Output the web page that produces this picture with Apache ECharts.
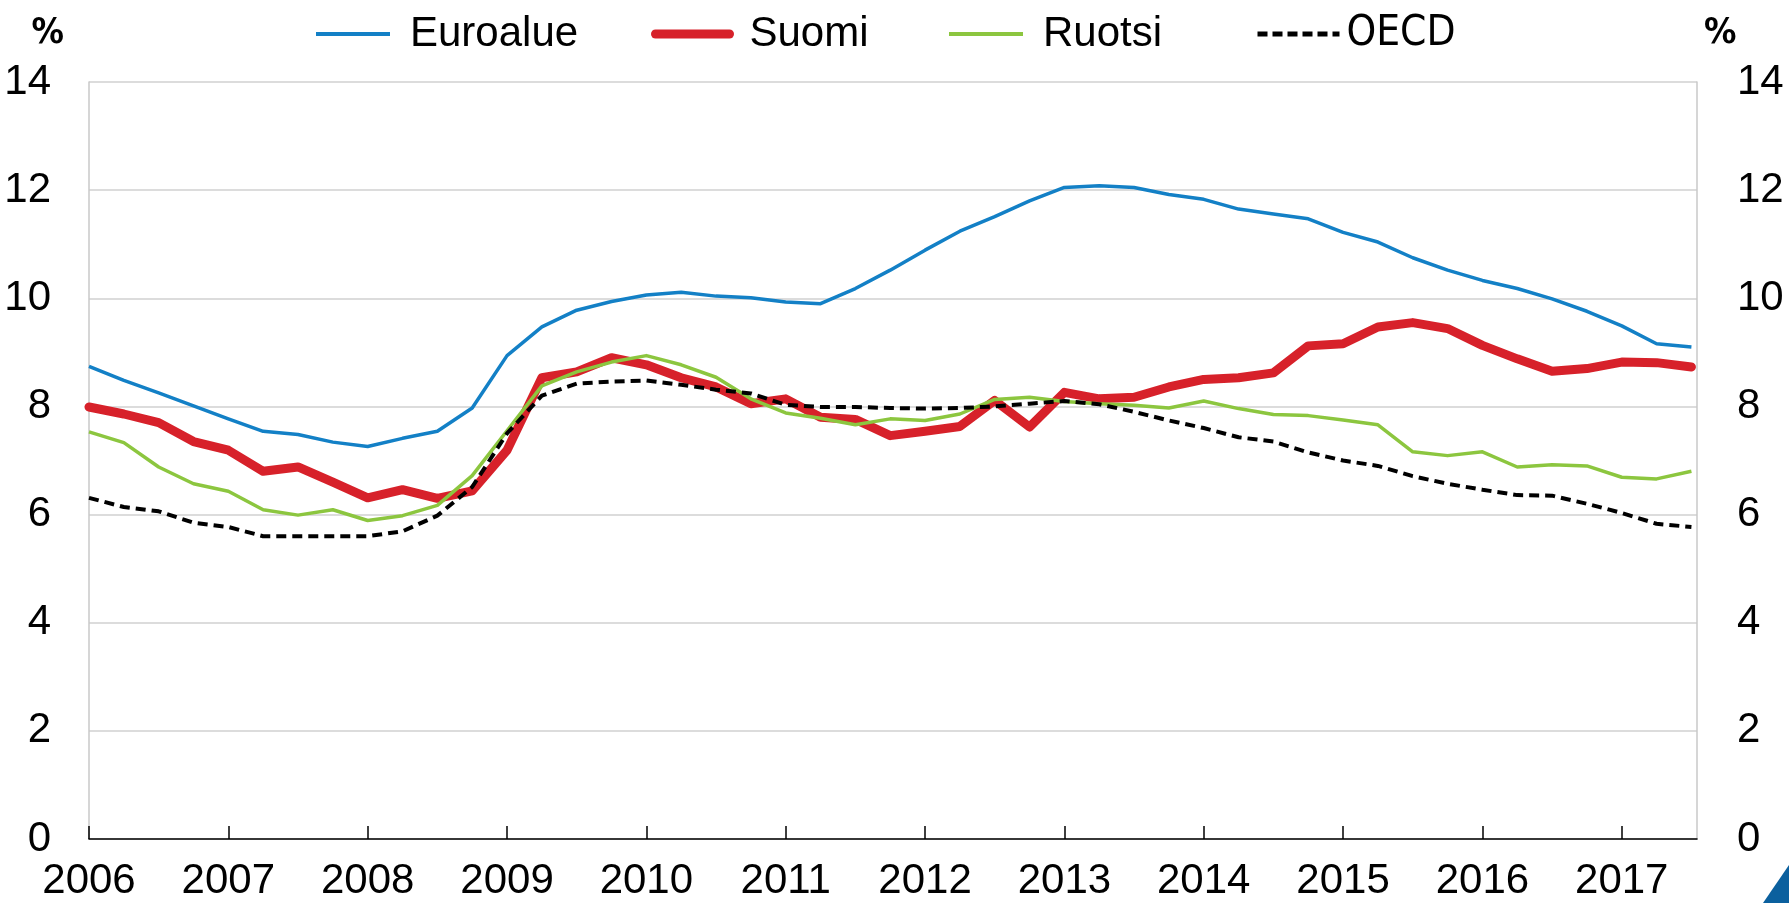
<!DOCTYPE html>
<html>
<head>
<meta charset="utf-8">
<script src="https://cdn.jsdelivr.net/npm/echarts@6/dist/echarts.min.js"></script>
<style>
  html, body { margin: 0; padding: 0; background: #fff; }
  #chart { width: 1789px; height: 903px; }
</style>
</head>
<body>
<div id="chart"></div>
<script>
// quarterly unemployment rate, 2006Q1 .. 2017Q3
const startYear = 2006;
const yearTicks = [2006, 2007, 2008, 2009, 2010, 2011, 2012, 2013, 2014, 2015, 2016, 2017];

const euroalue = [8.74, 8.48, 8.25, 8.01, 7.77, 7.54, 7.48, 7.34, 7.26, 7.41, 7.54, 7.97,
  8.94, 9.47, 9.78, 9.94, 10.06, 10.11, 10.04, 10.01, 9.93, 9.90, 10.18, 10.52,
  10.89, 11.24, 11.51, 11.80, 12.05, 12.08, 12.05, 11.92, 11.83, 11.65, 11.56, 11.47,
  11.22, 11.04, 10.75, 10.52, 10.33, 10.18, 9.99, 9.76, 9.49, 9.16, 9.10];

const suomi = [7.99, 7.86, 7.70, 7.35, 7.19, 6.80, 6.88, 6.60, 6.31, 6.46, 6.30, 6.44,
  7.19, 8.53, 8.64, 8.90, 8.77, 8.53, 8.36, 8.05, 8.14, 7.80, 7.76, 7.46,
  7.54, 7.63, 8.11, 7.62, 8.26, 8.14, 8.17, 8.36, 8.50, 8.53, 8.62, 9.12,
  9.16, 9.47, 9.55, 9.44, 9.13, 8.88, 8.65, 8.70, 8.82, 8.81, 8.73];

const ruotsi = [7.53, 7.33, 6.88, 6.57, 6.43, 6.09, 5.99, 6.09, 5.89, 5.98, 6.17, 6.72,
  7.55, 8.38, 8.64, 8.82, 8.94, 8.77, 8.54, 8.14, 7.88, 7.78, 7.66, 7.77,
  7.74, 7.86, 8.13, 8.17, 8.09, 8.05, 8.02, 7.97, 8.10, 7.96, 7.85, 7.83,
  7.75, 7.66, 7.16, 7.09, 7.16, 6.88, 6.92, 6.90, 6.69, 6.66, 6.80];

const oecd = [6.31, 6.14, 6.06, 5.85, 5.77, 5.60, 5.60, 5.60, 5.60, 5.69, 5.98, 6.51,
  7.50, 8.20, 8.42, 8.46, 8.48, 8.40, 8.31, 8.24, 8.03, 7.99, 7.99, 7.97,
  7.96, 7.97, 8.00, 8.05, 8.10, 8.04, 7.90, 7.74, 7.60, 7.43, 7.35, 7.15,
  7.00, 6.90, 6.71, 6.57, 6.46, 6.36, 6.35, 6.20, 6.03, 5.83, 5.77];

const condensed = "'DejaVu Sans Condensed', 'DejaVu Sans', sans-serif";
const regular = "'Liberation Sans', Arial, sans-serif";

// quarter i -> decimal year
const toPairs = (values) => values.map((v, i) => [startYear + i * 0.25, v]);

const chart = echarts.init(document.getElementById('chart'));

const legendBase = {
  top: 12,
  padding: 0,
  itemWidth: 74,
  itemHeight: 14,
  selectedMode: false,
  itemStyle: { opacity: 0 },
  textStyle: { fontSize: 42, fontFamily: regular, color: '#000', padding: [0, 0, 0, 15], lineHeight: 44 },
};

const option = {
  backgroundColor: '#fff',
  animation: false,
  legend: [
    Object.assign({}, legendBase, { left: 314, data: ['Euroalue'], lineStyle: { width: 4 } }),
    Object.assign({}, legendBase, { left: 651, data: ['Suomi'], lineStyle: { width: 9, cap: 'round' } }),
    Object.assign({}, legendBase, { left: 947, data: ['Ruotsi'], lineStyle: { width: 4 } }),
    Object.assign({}, legendBase, {
      left: 1255, data: ['OECD'], itemWidth: 82,
      lineStyle: { width: 5, type: [10, 5] },
      textStyle: { fontSize: 42, fontFamily: condensed, color: '#000', padding: [0, 0, 0, 2], lineHeight: 44 },
    }),
  ],
  grid: { left: 89, right: 92, top: 82, bottom: 64, containLabel: false },
  xAxis: {
    type: 'value',
    min: 2006,
    max: 2017.54,
    interval: 1,
    splitLine: { show: false },
    axisLine: { show: true, lineStyle: { color: '#000', width: 1.5 } },
    axisTick: { show: true, inside: true, length: 13, lineStyle: { color: '#000', width: 1.5 }, customValues: yearTicks },
    axisLabel: {
      customValues: yearTicks,
      margin: 21,
      fontSize: 42,
      fontFamily: regular,
      color: '#000',
      formatter: (v) => String(v),
    },
  },
  yAxis: [
    {
      type: 'value',
      position: 'left',
      min: 0,
      max: 14,
      interval: 2,
      name: '%',
      nameLocation: 'end',
      nameGap: 30,
      nameTextStyle: { fontSize: 36, fontWeight: 'bold', fontFamily: condensed, color: '#000', align: 'right', padding: [0, 25, 0, 0] },
      axisLine: { show: true, lineStyle: { color: '#c8c8c8', width: 1.5 } },
      axisTick: { show: false },
      splitLine: { show: true, lineStyle: { color: '#d0d0d0', width: 1.5 } },
      axisLabel: { margin: 38, fontSize: 42, fontFamily: regular, color: '#000' },
    },
    {
      type: 'value',
      position: 'right',
      min: 0,
      max: 14,
      interval: 2,
      name: '%',
      nameLocation: 'end',
      nameGap: 30,
      nameTextStyle: { fontSize: 36, fontWeight: 'bold', fontFamily: condensed, color: '#000', align: 'left', padding: [0, 0, 0, 7] },
      axisLine: { show: true, lineStyle: { color: '#c8c8c8', width: 1.5 } },
      axisTick: { show: false },
      splitLine: { show: false },
      axisLabel: { margin: 40, fontSize: 42, fontFamily: regular, color: '#000' },
    },
  ],
  series: [
    {
      name: 'Suomi', type: 'line', symbol: 'none', z: 2,
      data: toPairs(suomi),
      lineStyle: { color: '#d7212a', width: 9, join: 'round', cap: 'round' },
      itemStyle: { color: '#d7212a' },
    },
    {
      name: 'Euroalue', type: 'line', symbol: 'none', z: 3,
      data: toPairs(euroalue),
      lineStyle: { color: '#1380c6', width: 3.5, join: 'round' },
      itemStyle: { color: '#1380c6' },
    },
    {
      name: 'Ruotsi', type: 'line', symbol: 'none', z: 3,
      data: toPairs(ruotsi),
      lineStyle: { color: '#8cc63f', width: 3.5, join: 'round' },
      itemStyle: { color: '#8cc63f' },
    },
    {
      name: 'OECD', type: 'line', symbol: 'none', z: 4,
      data: toPairs(oecd),
      lineStyle: { color: '#000', width: 4, type: [10, 6] },
      itemStyle: { color: '#000' },
    },
  ],
  graphic: [
    {
      type: 'polygon',
      shape: { points: [[1763, 903], [1789, 865], [1789, 903]] },
      style: { fill: '#0b609e' },
      silent: true,
    },
  ],
};

chart.setOption(option);
</script>
</body>
</html>
